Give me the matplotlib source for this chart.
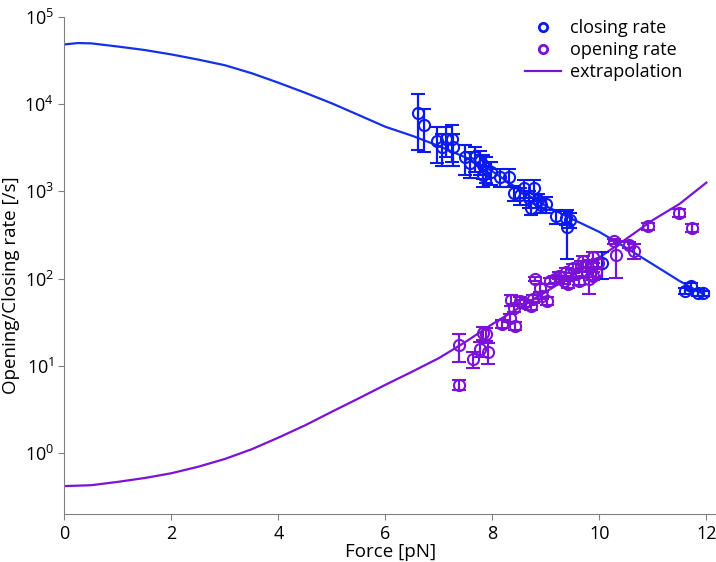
import numpy as np
from matplotlib import pyplot as plt
from matplotlib.ticker import NullLocator
from matplotlib.lines import Line2D

plt.rcParams['font.family'] = ['Open Sans', 'DejaVu Sans']

# extrapolation curves
fit_force = [0, 0.25, 0.5, 1, 1.5, 2, 2.5, 3, 3.5, 4, 4.5, 5, 5.5, 6, 6.5, 7, 7.5, 8, 8.5,
             9, 9.5, 10, 10.5, 11, 11.5, 11.95]
fit_closing = [48300, 50100, 49700, 45700, 41700, 37100, 32400, 27900, 22600, 17600, 13500,
               10200, 7500, 5500, 4340, 3310, 2450, 1700, 1050, 680, 480, 343, 226, 146, 94, 66]
fit_force_o = [0, 0.5, 1, 1.5, 2, 2.5, 3, 3.5, 4, 4.5, 5, 5.5, 6, 6.5, 7, 7.5, 8, 8.5, 9,
               9.5, 10, 10.5, 11, 11.5, 12]
fit_opening = [0.42, 0.43, 0.47, 0.52, 0.59, 0.70, 0.86, 1.11, 1.51, 2.09, 2.99, 4.25, 6.08,
               8.6, 12.3, 18.9, 30.2, 46.5, 70.8, 109, 175, 285, 470, 720, 1260]

# closing rate points
cl_f = [6.6, 6.72, 6.97, 7.06, 7.14, 7.24, 7.27, 7.48, 7.59, 7.67, 7.76, 7.82, 7.88, 7.97,
        7.82, 8.14, 8.31, 8.4, 8.52, 8.59, 8.69, 8.78, 8.85, 8.9, 8.73, 9.0, 9.19, 9.38,
        9.39, 9.46, 10.04, 11.6, 11.72, 11.85, 11.94]
cl_r = [8000, 5800, 3800, 3250, 3950, 3950, 3250, 2460, 2140, 2460, 2230, 2000, 1860, 1680,
        1530, 1460, 1460, 960, 900, 1100, 830, 1100, 790, 690, 650, 720, 520, 500,
        390, 470, 150, 73, 82, 69, 68]
cl_e = [5000, 3000, 1700, 1300, 1500, 1800, 1300, 900, 700, 800, 700, 600, 600, 500,
        400, 350, 350, 180, 200, 250, 180, 250, 150, 120, 120, 150, 100, 90,
        220, 90, 50, 6, 7, 5, 4]

# opening rate points
op_f = [7.37, 7.37, 7.63, 7.76, 7.82, 7.88, 7.91, 8.18, 8.33, 8.35, 8.42, 8.4, 8.52, 8.6,
        8.72, 8.75, 8.8, 8.89, 8.93, 9.03, 9.08, 9.17, 9.25, 9.33, 9.38, 9.42, 9.5, 9.56,
        9.62, 9.65, 9.7, 9.76, 9.8, 9.84, 9.89, 9.93, 9.97, 9.89, 10.27, 10.31, 10.55,
        10.65, 10.9, 11.48, 11.74]
op_r = [17.2, 6.1, 12, 15.7, 24, 23.5, 14.5, 30.4, 35.5, 57, 29, 46, 56, 52,
        49, 59, 100, 78, 64, 56, 94, 98, 108, 94, 120, 86, 131, 114,
        94, 138, 158, 120, 99, 144, 175, 120, 150, 108, 268, 187, 243,
        210, 400, 570, 379]
op_e = [6, 0.8, 2.5, 3, 4, 4, 4, 3, 4, 8, 3, 5, 5, 5,
        5, 6, 5, 8, 6, 6, 8, 8, 10, 8, 12, 8, 15, 12,
        10, 20, 25, 15, 33, 20, 25, 15, 20, 12, 20, 85, 20,
        40, 35, 60, 40]

blue = '#0a1af0'
violet = '#7a12d8'

fig = plt.figure(figsize=(7.16, 5.62), dpi=100)
ax = fig.add_axes([0.09, 0.085, 0.91, 0.885])

ax.plot(fit_force, fit_closing, color='#1530e8', lw=1.6)
ax.plot(fit_force_o, fit_opening, color=violet, lw=1.6)

ax.errorbar(cl_f, cl_r, yerr=cl_e, fmt='o', mfc='none', mec=blue, ecolor=blue,
            ms=8, mew=1.5, elinewidth=1.6, capsize=5, capthick=1.6)
ax.errorbar(op_f, op_r, yerr=op_e, fmt='o', mfc='none', mec=violet, ecolor=violet,
            ms=8, mew=1.5, elinewidth=1.6, capsize=5, capthick=1.6)

ax.set_yscale('log')
ax.set_xlim(0, 12.18)
ax.set_ylim(0.2, 1e5)
ax.yaxis.set_minor_locator(NullLocator())
ax.set_xticks([0, 2, 4, 6, 8, 10, 12])

for s in ['top', 'right']:
    ax.spines[s].set_visible(False)
for s in ['left', 'bottom']:
    ax.spines[s].set_color('#808080')
ax.tick_params(colors='#808080', labelcolor='black', labelsize=13, length=4)

ax.set_xlabel('Force [pN]', fontsize=13.5, labelpad=0)
ax.set_ylabel('Opening/Closing rate [/s]', fontsize=13.5)
ax.yaxis.set_label_coords(-0.068, 0.46)

handles = [
    Line2D([], [], ls='none', marker='o', ms=6, mfc='none', mec=blue, mew=2),
    Line2D([], [], ls='none', marker='o', ms=6, mfc='none', mec=violet, mew=2),
    Line2D([], [], color=violet, lw=1.6),
]
ax.legend(handles, ['closing rate', 'opening rate', 'extrapolation'], loc='upper right',
          frameon=False, fontsize=13, handlelength=2.0, handletextpad=0.5,
          labelspacing=0.22, borderaxespad=0.0, bbox_to_anchor=(0.96, 1.01))

fig.savefig('out.png', dpi=100)
